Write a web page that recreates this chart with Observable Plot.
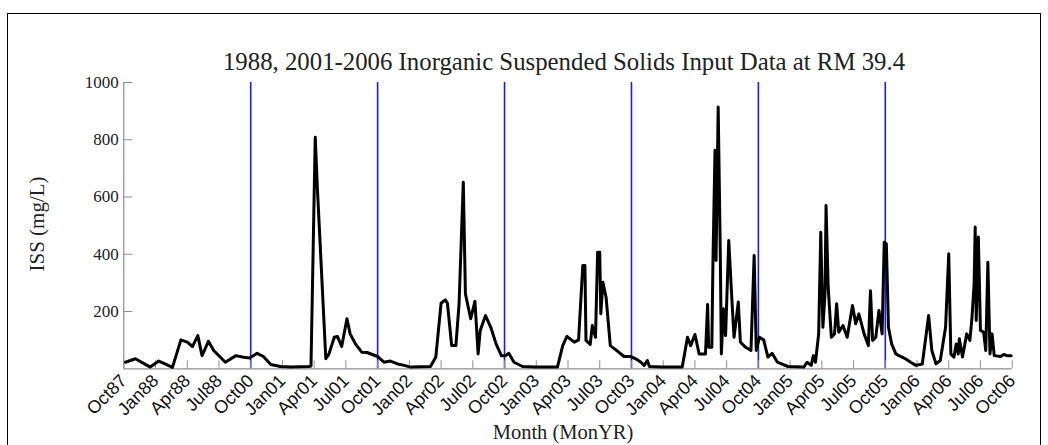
<!DOCTYPE html>
<html><head><meta charset="utf-8">
<script src="https://cdn.jsdelivr.net/npm/d3@7"></script>
<script src="https://cdn.jsdelivr.net/npm/@observablehq/plot@0.6"></script>
<style>
body{margin:0;background:#fff;}
#wrap{position:relative;width:1048px;height:445px;overflow:hidden;background:#fff}
#frame{position:absolute;left:7px;top:13px;width:1034px;height:460px;border:1.5px solid #000;box-sizing:border-box}
.lbl{position:absolute;font-family:"Liberation Serif","Times New Roman",serif;color:#222;white-space:nowrap}
#title{left:564px;top:62px;transform:translate(-50%,-50%);font-size:24.8px}
#xlab{left:563px;top:432px;transform:translate(-50%,-50%);font-size:20.5px}
#ylab{left:37px;top:224px;transform:translate(-50%,-50%) rotate(-90deg);font-size:21px}
#chart{position:absolute;left:0;top:0}
</style>
</head><body>
<div id="wrap">
  <div id="frame"></div>
  <div id="chart"></div>
  <div class="lbl" id="title">1988, 2001-2006 Inorganic Suspended Solids Input Data at RM 39.4</div>
  <div class="lbl" id="ylab">ISS (mg/L)</div>
  <div class="lbl" id="xlab">Month (MonYR)</div>
</div>
<script>
// x = month index along the concatenated record (0 = Oct87, 12 = Oct00, ..., 84 = Oct06)
const monthLabels = ["Oct87","Jan88","Apr88","Jul88","Oct00","Jan01","Apr01","Jul01","Oct01","Jan02","Apr02","Jul02","Oct02","Jan03","Apr03","Jul03","Oct03","Jan04","Apr04","Jul04","Oct04","Jan05","Apr05","Jul05","Oct05","Jan06","Apr06","Jul06","Oct06"];
const tickMonths = monthLabels.map((_, i) => i * 3);
const yearBoundaries = [12, 24, 36, 48, 60, 72];
const yTicks = [200, 400, 600, 800, 1000];

// ISS (mg/L) readings, [month index, value]
const wy1988 = [[0.16,23],[1.1,35],[2.2,12],[2.5,6],[3.3,27],[3.9,17],[4.6,5],[5.4,101],[6.0,93],[6.5,78],[7.0,116],[7.4,46],[8.0,96],[8.5,64],[9.6,23],[10.6,46],[11.2,41],[11.9,38]];
const wy2001 = [[12.6,54],[13.2,43],[13.9,15],[14.8,8],[15.8,6],[17.5,8],[17.7,10],[18.1,809],[18.3,634],[19.1,35],[19.4,52],[19.9,110],[20.2,113],[20.6,78],[21.1,175],[21.4,122],[21.9,87],[22.5,58],[23.0,57],[23.5,50],[24.0,43]];
const wy2002 = [[24.6,23],[25.2,27],[25.9,17],[26.5,12],[27.1,6],[29.0,8],[29.5,41],[30.0,229],[30.4,241],[30.6,229],[31.0,81],[31.4,81],[31.7,227],[32.1,652],[32.3,262],[32.8,175],[33.2,236],[33.5,52],[33.7,134],[34.2,186],[34.7,145],[35.2,87],[35.7,46],[36.1,46],[36.4,54],[36.9,23]];
const wy2003 = [[37.7,8],[38.9,6],[41.0,6],[41.5,81],[41.9,113],[42.6,93],[43.0,101],[43.4,361],[43.6,361],[43.7,99],[44.1,85],[44.3,151],[44.6,110],[44.8,407],[45.0,407],[45.1,192],[45.3,302],[45.6,250],[46.0,81],[46.7,61],[47.3,43],[47.9,43],[48.4,35],[48.9,23]];
const wy2004 = [[49.2,12],[49.5,29],[49.7,8],[50.9,6],[52.8,6],[53.3,110],[53.6,81],[54.0,120],[54.4,52],[55.0,52],[55.2,225],[55.3,75],[55.6,75],[55.7,361],[55.9,763],[56.0,378],[56.2,914],[56.4,402],[56.5,52],[56.7,210],[56.9,116],[57.2,448],[57.5,239],[57.7,110],[58.1,233],[58.3,93],[58.8,75],[59.3,64],[59.6,396],[59.8,64],[60.1,110],[60.5,101]];
const wy2005 = [[60.9,41],[61.3,54],[61.8,23],[62.8,8],[64.3,6],[64.6,23],[65.0,12],[65.2,46],[65.4,23],[65.7,122],[65.9,477],[66.1,145],[66.3,262],[66.4,570],[66.6,285],[66.9,110],[67.2,122],[67.4,227],[67.6,128],[68.0,151],[68.4,110],[68.9,221],[69.2,157],[69.5,192],[70.0,122],[70.4,81],[70.6,273],[70.8,99],[71.1,110],[71.4,204],[71.7,122],[71.9,442],[72.1,437]];
const wy2006 = [[72.3,145],[72.6,87],[73.0,52],[73.3,46],[73.9,35],[74.4,23],[74.9,12],[75.5,17],[76.1,186],[76.4,64],[76.8,17],[77.2,29],[77.7,145],[78.0,402],[78.2,52],[78.5,41],[78.7,87],[78.9,52],[79.0,105],[79.3,41],[79.7,122],[80.0,99],[80.2,180],[80.4,297],[80.5,495],[80.6,169],[80.8,460],[81.0,134],[81.3,128],[81.5,64],[81.7,372],[81.9,52],[82.1,122],[82.3,46],[82.9,43],[83.2,50],[83.5,46],[83.9,46]];

const data = [...wy1988, ...wy2001, ...wy2002, ...wy2003, ...wy2004, ...wy2005, ...wy2006].map(([m, v]) => ({m, v}));

const W = 1048, H = 445;
const mL = 123.3, mR = W - 1011.7, mT = 82, mB = H - 368.3;
const plotW = W - mL - mR, plotH = H - mT - mB;
const axisGray = "#8f8f8f";

const chart = Plot.plot({
  width: W, height: H,
  marginLeft: mL, marginRight: mR, marginTop: mT, marginBottom: mB,
  style: {background: "transparent", overflow: "visible"},
  x: {domain: [0, 84], axis: null},
  y: {domain: [0, 1000], axis: null},
  marks: [
    Plot.ruleX(yearBoundaries, {stroke: "#1a1aff", strokeWidth: 1.6}),
    Plot.ruleX([0], {stroke: axisGray, strokeWidth: 1.2}),
    Plot.ruleY([0], {stroke: axisGray, strokeWidth: 1.2}),
    Plot.tickX(tickMonths, {x: d => d, insetTop: plotH - 8, stroke: axisGray}),
    Plot.tickY(yTicks, {y: d => d, insetRight: plotW - 9, stroke: axisGray}),
    Plot.line(data, {x: "m", y: "v", stroke: "#000", strokeWidth: 3, strokeLinejoin: "round", strokeLinecap: "round"}),
    Plot.axisX(tickMonths, {
      tickSize: 0, tickPadding: 9, tickRotate: -45, textAnchor: "end",
      tickFormat: d => monthLabels[d / 3], fontSize: 18,
      fontFamily: "Liberation Sans, Arial, sans-serif", fill: "#111", label: null
    }),
    Plot.axisY(yTicks, {
      tickSize: 0, tickPadding: 5, tickFormat: d => String(d), fontSize: 17,
      fontFamily: "Liberation Serif, Times New Roman, serif", fill: "#222", label: null
    })
  ]
});
document.getElementById("chart").appendChild(chart);
</script>
</body></html>
